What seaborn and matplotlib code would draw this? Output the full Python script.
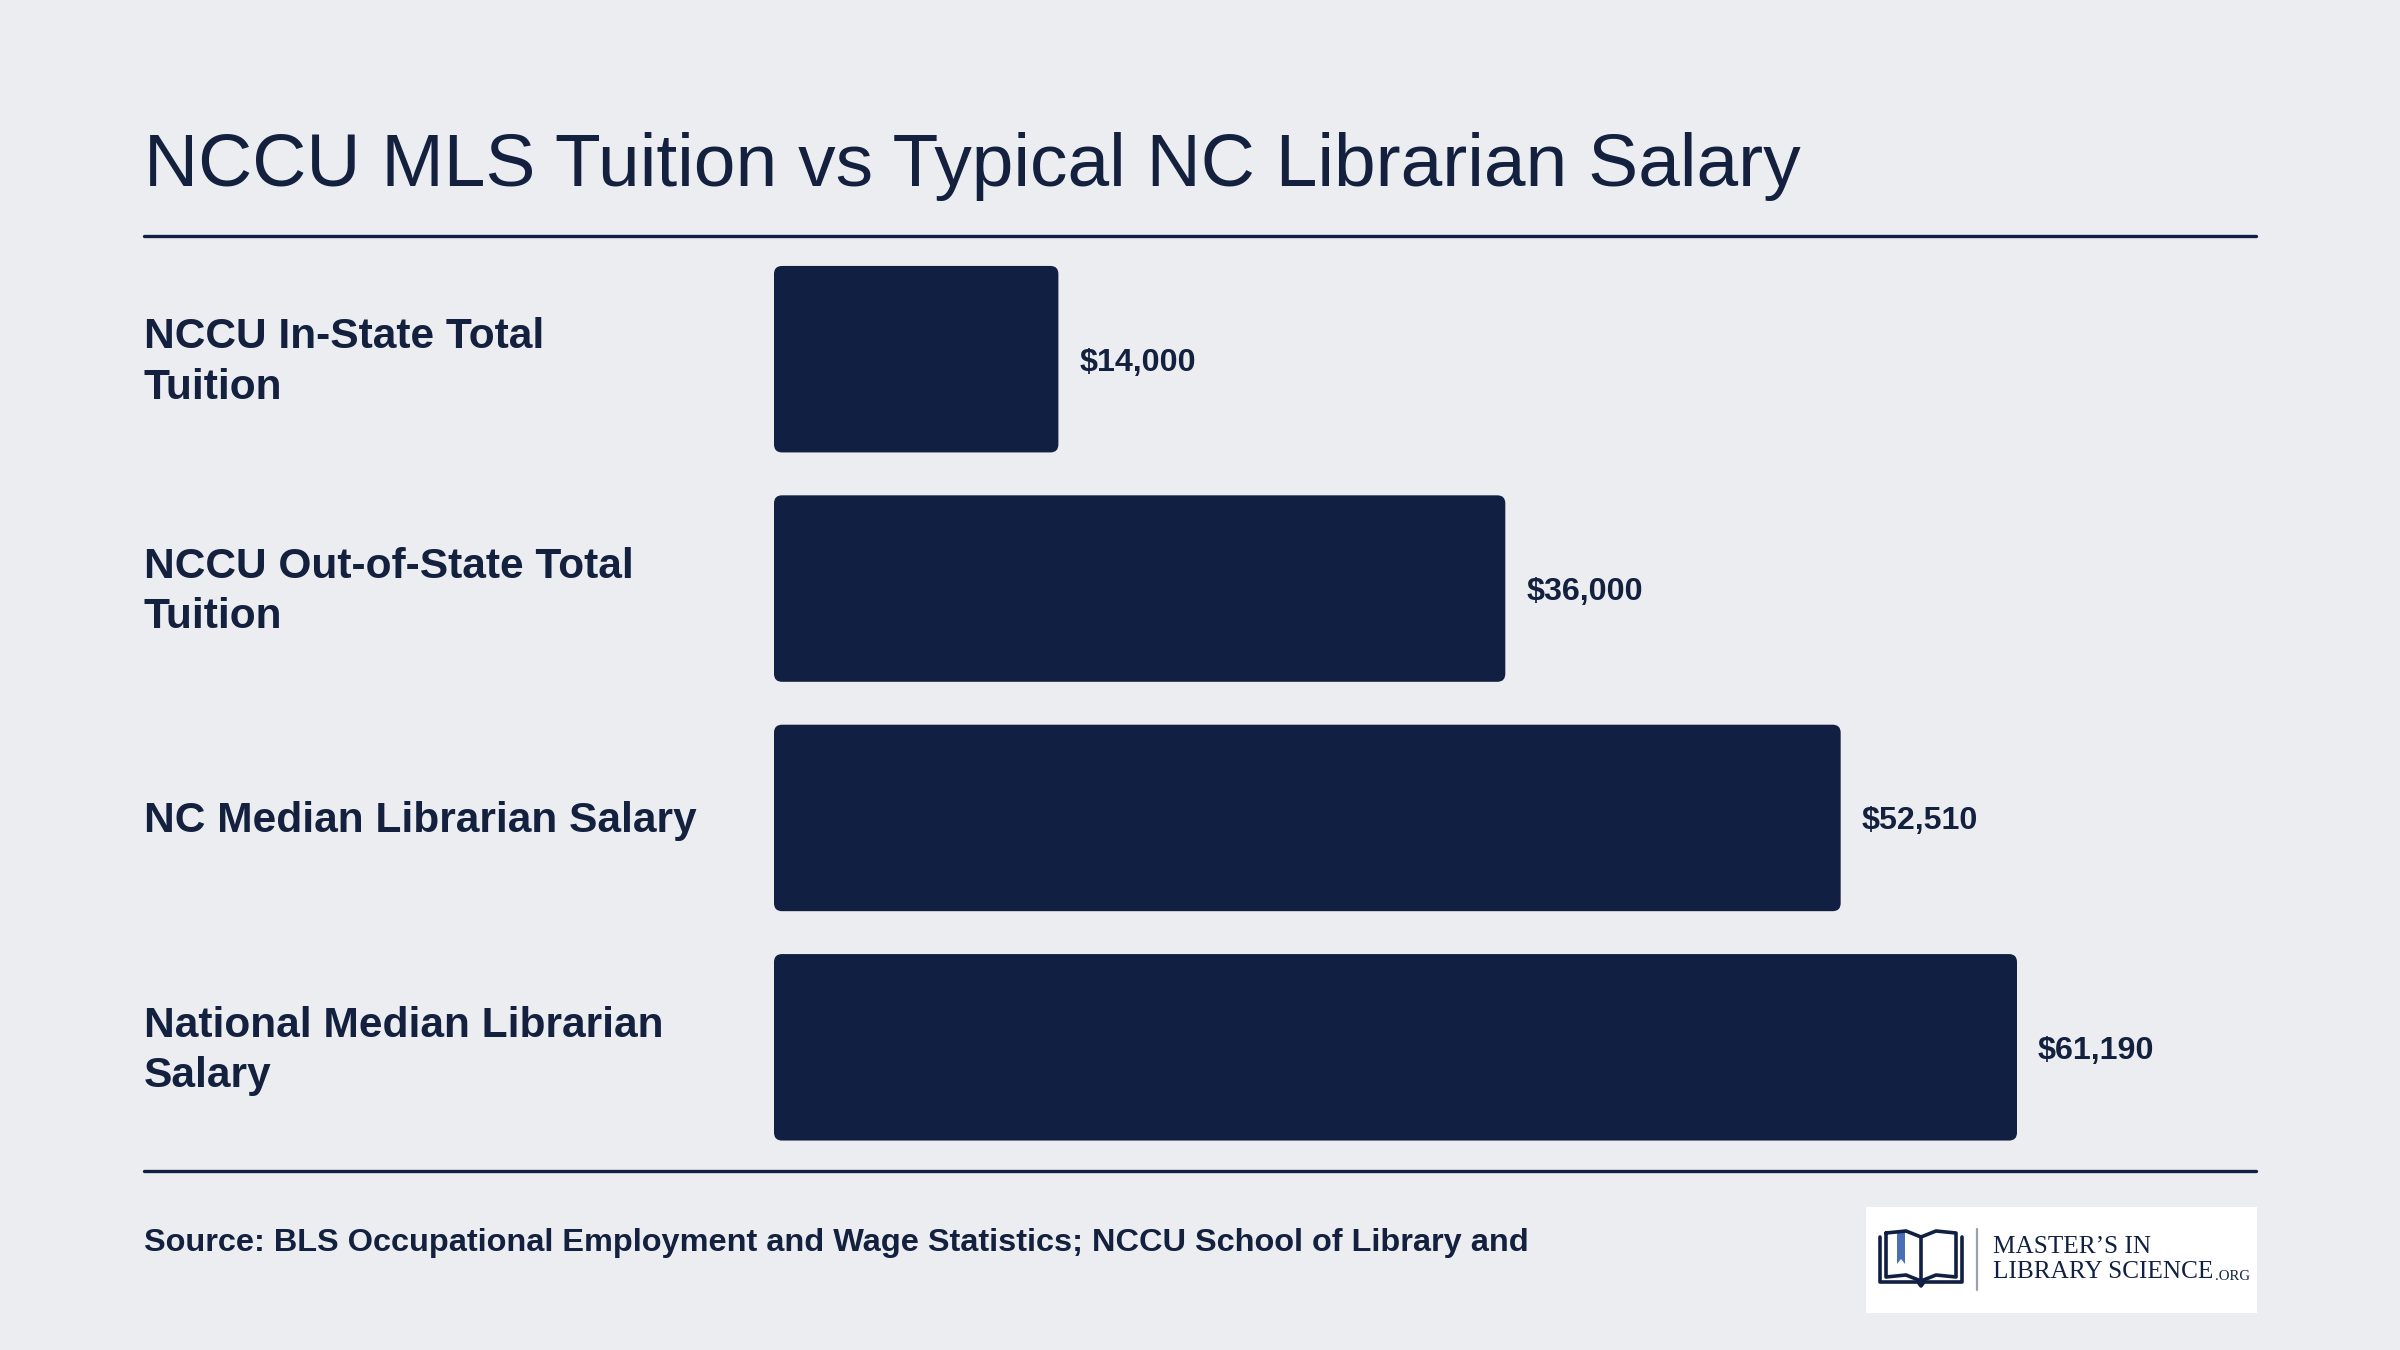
import matplotlib
matplotlib.use("Agg")
import matplotlib.pyplot as plt
import pandas as pd
import seaborn as sns
from matplotlib.patches import FancyBboxPatch, Rectangle, Polygon
from matplotlib.lines import Line2D

# chart data
categories = [
    "NCCU In-State Total\nTuition",
    "NCCU Out-of-State Total\nTuition",
    "NC Median Librarian Salary",
    "National Median Librarian\nSalary",
]
values = [14000, 36000, 52510, 61190]
value_labels = ["$14,000", "$36,000", "$52,510", "$61,190"]

title = "NCCU MLS Tuition vs Typical NC Librarian Salary"
source = "Source: BLS Occupational Employment and Wage Statistics; NCCU School of Library and"

BG = "#ECEDF1"
NAVY = "#112042"
TEXT = "#13213F"
W, H = 2400, 1350

sns.set_theme(style="white")
plt.rcParams["font.family"] = ["Liberation Sans", "DejaVu Sans"]

fig = plt.figure(figsize=(12, 6.75), dpi=200, facecolor=BG)


def fx(px):
    return px / W


def fy(py):
    return 1 - py / H


# bars axes
ax = fig.add_axes([fx(774), fy(1162), fx(2256) - fx(774), fy(244.5) - fy(1162)])
ax.set_facecolor(BG)
df = pd.DataFrame({"category": categories, "value": values})
sns.barplot(data=df, x="value", y="category", color=NAVY, width=0.813,
            saturation=1, ax=ax, orient="h")
xmax = 61190 * (2256 - 774) / (2017 - 774)
ax.set_xlim(0, xmax)
ax.set_ylim(3.5, -0.5)
ax.set_xlabel("")
ax.set_ylabel("")
ax.set_xticks([])
ax.set_yticks([])
for s in ax.spines.values():
    s.set_visible(False)

# rounded bars
rx = 8 * xmax / (2256 - 774)
ry = 8 / 229.4
for p in list(ax.patches):
    x0, y0 = p.get_x(), p.get_y()
    w, h = p.get_width(), p.get_height()
    p.set_visible(False)
    ax.add_patch(FancyBboxPatch((x0, y0), w, h,
                                boxstyle=f"round,pad=0,rounding_size={rx}",
                                mutation_aspect=ry / rx,
                                facecolor=NAVY, edgecolor="none"))

for i, (v, lab) in enumerate(zip(values, value_labels)):
    ax.text(v + 21 * xmax / (2256 - 774), i, lab, ha="left",
            va="center_baseline", fontsize=11.6, fontweight="bold", color=TEXT)

# category labels
for i, cat in enumerate(categories):
    yc = 359.5 + i * 229.4
    fig.text(fx(144), fy(yc + 3), cat, ha="left", va="center", fontsize=15.3,
             fontweight="bold", color=TEXT, linespacing=1.33)

# title and rules
fig.text(fx(144), fy(186), title, ha="left", va="baseline", fontsize=27.0,
         color=TEXT)
for yy in (236, 1171):
    fig.add_artist(Line2D([fx(144), fx(2256)], [fy(yy), fy(yy)],
                          color=NAVY, lw=1.2))

fig.text(fx(144), fy(1243), source, ha="left", va="center", fontsize=11.7,
         fontweight="bold", color=TEXT)

# logo
fig.add_artist(Rectangle((fx(1866), fy(1313)), fx(2257) - fx(1866),
                         fy(1207) - fy(1313), facecolor="white",
                         edgecolor="none", transform=fig.transFigure))
# book icon
bk = dict(color=NAVY, lw=1.3, transform=fig.transFigure)
for pts in (
    [(1880, 1237), (1880, 1282), (1918, 1282), (1921, 1286), (1924, 1282),
     (1962, 1282), (1962, 1237)],
    [(1886, 1233), (1886, 1277), (1906, 1275), (1921, 1281), (1936, 1275),
     (1956, 1277), (1956, 1233), (1936, 1231), (1921, 1237), (1906, 1231),
     (1886, 1233)],
):
    xs = [fx(a) for a, b in pts]
    ys = [fy(b) for a, b in pts]
    fig.add_artist(Line2D(xs, ys, **bk))
fig.add_artist(Line2D([fx(1921), fx(1921)], [fy(1237), fy(1281)], **bk))
fig.add_artist(Polygon([(fx(1897), fy(1232)), (fx(1905), fy(1232)),
                        (fx(1905), fy(1264)), (fx(1901), fy(1259)),
                        (fx(1897), fy(1264))], closed=True,
                       facecolor="#4A6FB5", edgecolor="none",
                       transform=fig.transFigure))
fig.add_artist(Line2D([fx(1977), fx(1977)], [fy(1229), fy(1290)],
                      color="#9AA0AE", lw=0.8))
fig.text(fx(1993), fy(1247), "MASTER\u2019S IN", ha="left", va="center",
         fontsize=9.1, family="Liberation Serif", color=NAVY)
t2 = fig.text(fx(1993), fy(1272), "LIBRARY SCIENCE", ha="left", va="center",
              fontsize=9.1, family="Liberation Serif", color=NAVY)
fig.canvas.draw()
bb = t2.get_window_extent()
fig.text(bb.x1 / W + 0.0005, fy(1276), ".ORG", ha="left", va="center",
         fontsize=5.3, family="Liberation Serif", color=NAVY)

fig.savefig("out.png", dpi=200, facecolor=BG)
